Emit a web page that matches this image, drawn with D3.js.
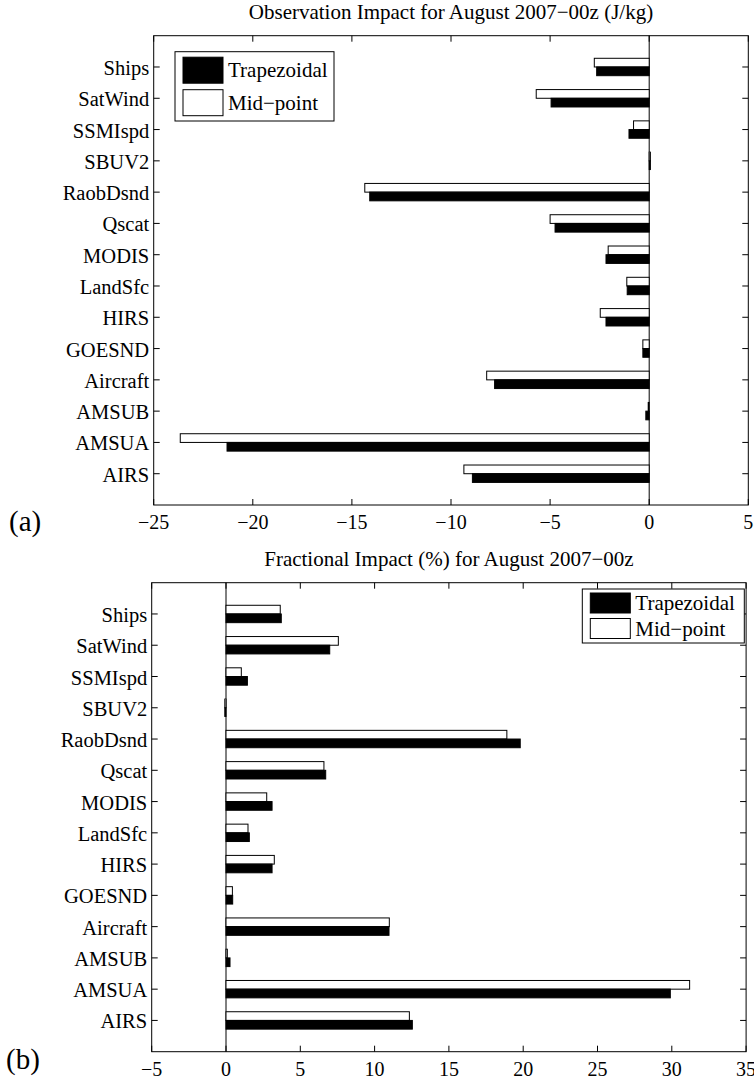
<!DOCTYPE html>
<html>
<head>
<meta charset="utf-8">
<script src="https://cdn.jsdelivr.net/npm/d3@7"></script>
<style>
  body { margin: 0; background: #fff; }
  text { font-family: "Liberation Serif", "Times New Roman", serif; fill: #000; }
</style>
</head>
<body>
<div id="chart"></div>
<script>
// categories from top to bottom
const categories = ["Ships", "SatWind", "SSMIspd", "SBUV2", "RaobDsnd", "Qscat", "MODIS",
  "LandSfc", "HIRS", "GOESND", "Aircraft", "AMSUB", "AMSUA", "AIRS"];

// (a) observation impact, J/kg
const impactTrap = [-2.65, -4.95, -1.02, 0.06, -14.1, -4.75, -2.18, -1.11, -2.18, -0.32, -7.8, -0.17, -21.3, -8.92];
const impactMid  = [-2.77, -5.7, -0.79, 0.06, -14.35, -5.0, -2.07, -1.13, -2.47, -0.32, -8.2, -0.05, -23.66, -9.35];

// (b) fractional impact, %
const fracTrap = [3.72, 6.98, 1.44, -0.08, 19.8, 6.71, 3.1, 1.57, 3.1, 0.45, 10.97, 0.27, 29.9, 12.54];
const fracMid  = [3.65, 7.56, 1.03, -0.08, 18.9, 6.59, 2.74, 1.48, 3.25, 0.43, 10.99, 0.09, 31.2, 12.34];

const seriesNames = ["Trapezoidal", "Mid\u2212point"];
const ticksA = [-25, -20, -15, -10, -5, 0, 5];
const ticksB = [-5, 0, 5, 10, 15, 20, 25, 30, 35];

const svg = d3.select("#chart")
  .append("svg")
    .attr("width", 754)
    .attr("height", 1085);

function drawPanel(opt) {
  const x = d3.scaleLinear().domain(opt.domain).range([opt.left, opt.right]);

  // y: one band per category, two sub-bars inside
  const y = d3.scaleBand()
    .domain(categories)
    .range([opt.top, opt.bottom])
    .paddingInner(0.444)
    .paddingOuter(0.722);
  const sub = d3.scaleBand()
    .domain(["mid", "trap"])
    .range([0, y.bandwidth()]);

  const g = svg.append("g");

  const rows = categories.map((c, i) => ({cat: c, trap: opt.trap[i], mid: opt.mid[i]}));

  // zero line
  g.append("line")
    .attr("x1", x(0)).attr("x2", x(0))
    .attr("y1", opt.top).attr("y2", opt.bottom)
    .attr("stroke", "#000");

  // bars
  ["mid", "trap"].forEach(function(k) {
    g.selectAll("rect." + k)
      .data(rows)
      .join("rect")
        .attr("class", k)
        .attr("x", d => Math.min(x(0), x(d[k])))
        .attr("width", d => Math.max(Math.abs(x(d[k]) - x(0)), 0.8))
        .attr("y", d => y(d.cat) + sub(k))
        .attr("height", sub.bandwidth())
        .attr("fill", k == "trap" ? "#000" : "#fff")
        .attr("stroke", "#000")
        .attr("stroke-width", 1);
  });

  // box
  g.append("rect")
    .attr("x", opt.left).attr("y", opt.top)
    .attr("width", opt.right - opt.left).attr("height", opt.bottom - opt.top)
    .attr("fill", "none").attr("stroke", "#000");

  const tl = 6;
  // x ticks (bottom and top, pointing inward)
  opt.ticks.forEach(function(t) {
    g.append("line").attr("x1", x(t)).attr("x2", x(t))
      .attr("y1", opt.bottom).attr("y2", opt.bottom - tl).attr("stroke", "#000");
    g.append("line").attr("x1", x(t)).attr("x2", x(t))
      .attr("y1", opt.top).attr("y2", opt.top + tl).attr("stroke", "#000");
  });
  g.selectAll("text.xt")
    .data(opt.ticks)
    .join("text")
      .attr("class", "xt")
      .attr("x", d => x(d))
      .attr("y", opt.bottom + 24)
      .attr("text-anchor", "middle")
      .style("font-size", "20px")
      .text(d => d3.format("d")(d));

  // y ticks (left and right)
  categories.forEach(function(c) {
    const yc = y(c) + y.bandwidth() / 2;
    g.append("line").attr("x1", opt.left).attr("x2", opt.left + tl)
      .attr("y1", yc).attr("y2", yc).attr("stroke", "#000");
    g.append("line").attr("x1", opt.right).attr("x2", opt.right - tl)
      .attr("y1", yc).attr("y2", yc).attr("stroke", "#000");
  });
  g.selectAll("text.yt")
    .data(categories)
    .join("text")
      .attr("class", "yt")
      .attr("x", opt.left - 4.5)
      .attr("y", d => y(d) + y.bandwidth() / 2 + 8)
      .attr("text-anchor", "end")
      .style("font-size", "20.5px")
      .text(d => d);

  // title
  g.append("text")
    .attr("x", (opt.left + opt.right) / 2)
    .attr("y", opt.top - 16.7)
    .attr("text-anchor", "middle")
    .style("font-size", "21px")
    .text(opt.title);

  // panel letter
  g.append("text")
    .attr("x", opt.letterX)
    .attr("y", opt.letterY)
    .style("font-size", "29px")
    .text(opt.letter);

  // legend
  const L = opt.legend;
  g.append("rect")
    .attr("x", L.x).attr("y", L.y).attr("width", L.w).attr("height", L.h)
    .attr("fill", "#fff").attr("stroke", "#000");
  seriesNames.forEach(function(name, i) {
    const ry = L.y + L.pad + i * L.row;
    g.append("rect")
      .attr("x", L.x + 8).attr("y", ry)
      .attr("width", 40).attr("height", L.sw)
      .attr("fill", i == 0 ? "#000" : "#fff")
      .attr("stroke", "#000");
    g.append("text")
      .attr("x", L.x + 53)
      .attr("y", ry + L.sw / 2 + 7)
      .style("font-size", "21px")
      .text(name);
  });
}

drawPanel({
  domain: [-25, 5], left: 153.7, right: 748.3, top: 35.7, bottom: 505,
  trap: impactTrap, mid: impactMid, ticks: ticksA,
  title: "Observation Impact for August 2007\u221200z (J/kg)",
  letter: "(a)", letterX: 9, letterY: 531,
  legend: {x: 175, y: 51.7, w: 159, h: 69.3, pad: 5.5, row: 32.5, sw: 26}
});

drawPanel({
  domain: [-5, 35], left: 151.7, right: 746.1, top: 582.7, bottom: 1051.7,
  trap: fracTrap, mid: fracMid, ticks: ticksB,
  title: "Fractional Impact (%) for August 2007\u221200z",
  letter: "(b)", letterX: 6, letterY: 1069,
  legend: {x: 582.3, y: 589, w: 162, h: 54, pad: 4, row: 25.5, sw: 20}
});
</script>
</body>
</html>
